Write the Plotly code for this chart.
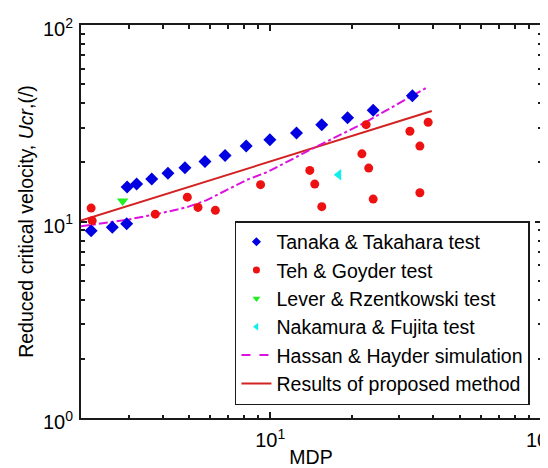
import plotly.graph_objects as go

# ---------------- data ----------------
tanaka_x = [2.18, 2.61, 2.95, 2.96, 3.21, 3.65, 4.19, 4.84, 5.74, 6.81, 8.15, 9.97, 12.5, 15.5, 19.3, 24.0, 33.5]
tanaka_y = [8.98, 9.34, 9.75, 15.0, 15.5, 16.45, 17.6, 18.8, 20.2, 21.7, 24.2, 26.1, 28.2, 31.1, 33.7, 36.8, 43.6]

teh_x = [2.18, 2.20, 3.76, 4.94, 5.41, 6.27, 9.21, 14.0, 14.6, 15.5, 21.8, 22.6, 23.1, 24.0, 32.8, 35.7, 35.7, 38.3]
teh_y = [11.7, 10.1, 10.9, 13.3, 11.8, 11.4, 15.4, 18.2, 15.5, 11.9, 22.1, 31.1, 18.7, 13.0, 28.8, 24.2, 14.0, 32.0]

lever_x = [2.85]
lever_y = [12.7]

nakamura_x = [17.9]
nakamura_y = [17.3]

hassan_x = [2.0, 2.95, 3.8, 4.9, 5.8, 8.2, 9.8, 14.5, 22.2, 38.1]
hassan_y = [9.45, 10.2, 10.9, 11.8, 12.8, 16.3, 17.9, 23.7, 31.7, 48.3]

proposed_x = [2.0, 39.5]
proposed_y = [10.1, 36.5]

x_tickvals = [10, 100]
x_ticktext = ["10<sup>1</sup>", "10<sup>2</sup>"]
y_tickvals = [1, 10, 100]
y_ticktext = ["10<sup>0</sup>", "10<sup>1</sup>", "10<sup>2</sup>"]
minor_vals = [2, 3, 4, 5, 6, 7, 8, 9, 20, 30, 40, 50, 60, 70, 80, 90]

names = ["Tanaka & Takahara test", "Teh & Goyder test", "Lever & Rzentkowski test",
         "Nakamura & Fujita test", "Hassan & Hayder simulation", "Results of proposed method"]

# ---------------- styles ----------------
BLUE = "#0000e0"
RED = "#ee1111"
GREEN = "#22ee22"
CYAN = "#11eeee"
MAGENTA = "#dd11dd"
DARKRED = "#d42222"
AXC = "#1a1a1a"
FONT = "Liberation Sans, Arial, sans-serif"
FS = 19.5
XR = [0.30103, 2]
YR = [0, 2]

fig = go.Figure()

# plotted traces (no legend)
fig.add_trace(go.Scatter(x=proposed_x, y=proposed_y, mode="lines",
                         line=dict(color=DARKRED, width=2), showlegend=False))
fig.add_trace(go.Scatter(x=hassan_x, y=hassan_y, mode="lines",
                         line=dict(color=MAGENTA, width=2, dash="dashdot"), showlegend=False))
fig.add_trace(go.Scatter(x=tanaka_x, y=tanaka_y, mode="markers",
                         marker=dict(symbol="diamond", size=10, color=BLUE), showlegend=False))
fig.add_trace(go.Scatter(x=teh_x, y=teh_y, mode="markers",
                         marker=dict(symbol="circle", size=9, color=RED), showlegend=False))
fig.add_trace(go.Scatter(x=lever_x, y=lever_y, mode="markers",
                         marker=dict(symbol="triangle-down", size=10, color=GREEN), showlegend=False))
fig.add_trace(go.Scatter(x=nakamura_x, y=nakamura_y, mode="markers",
                         marker=dict(symbol="triangle-left", size=10, color=CYAN), showlegend=False))

# legend-only entries (smaller legend symbols)
leg_styles = [
    dict(mode="markers", marker=dict(symbol="diamond", size=7, color=BLUE)),
    dict(mode="markers", marker=dict(symbol="circle", size=7, color=RED)),
    dict(mode="markers", marker=dict(symbol="triangle-down", size=7, color=GREEN)),
    dict(mode="markers", marker=dict(symbol="triangle-left", size=7, color=CYAN)),
    dict(mode="lines", line=dict(color=MAGENTA, width=2, dash="dash")),
    dict(mode="lines", line=dict(color=DARKRED, width=2)),
]
for nm, st in zip(names, leg_styles):
    fig.add_trace(go.Scatter(x=[None], y=[None], name=nm, showlegend=True, **st))

# empty traces on the overlay axes that carry the extra tick sets
for k in (2, 3, 4):
    fig.add_trace(go.Scatter(x=[None], y=[None], xaxis="x%d" % k, yaxis="y%d" % k,
                             showlegend=False, hoverinfo="skip"))

tick_base = dict(
    type="log", automargin=False,
    showline=True, linecolor=AXC, linewidth=2,
    mirror="ticks", ticks="inside", tickwidth=1.5, tickcolor=AXC,
    showgrid=False, zeroline=False,
)
major_over = dict(**tick_base, ticklen=6, showticklabels=False)
minor_over = dict(**tick_base, ticklen=3.5, showticklabels=False, tickvals=minor_vals)

fig.update_layout(
    width=548, height=468,
    margin=dict(l=73, r=15, t=17, b=58),
    paper_bgcolor="white", plot_bgcolor="white",
    font=dict(family=FONT, size=FS, color="#000000"),
    xaxis=dict(**tick_base, ticklen=6, range=XR,
               tickvals=x_tickvals, ticktext=x_ticktext,
               tickfont=dict(family=FONT, size=FS + 0.5, color="#000000"),
               ticklabeloverflow="allow", ticklabelstandoff=3,
               title=dict(text="MDP", font=dict(family=FONT, size=FS), standoff=0)),
    yaxis=dict(**tick_base, ticklen=6, range=YR,
               tickvals=y_tickvals, ticktext=y_ticktext,
               tickfont=dict(family=FONT, size=FS + 0.5, color="#000000"),
               ticklabeloverflow="allow", ticklabelstandoff=2, ticklabelshift=4,
               title=dict(text="Reduced critical velocity, <i>Ucr</i>,(/)",
                          font=dict(family=FONT, size=FS), standoff=4)),
    # minor ticks, main side bottom/left (mirrored to top/right)
    xaxis2=dict(**minor_over, range=XR, overlaying="x", anchor="y2", side="bottom"),
    yaxis2=dict(**minor_over, range=YR, overlaying="y", anchor="x2", side="left"),
    # major ticks, main side top/right (mirrored to bottom/left)
    xaxis3=dict(**major_over, range=XR, tickvals=x_tickvals, overlaying="x", anchor="y3", side="top"),
    yaxis3=dict(**major_over, range=YR, tickvals=y_tickvals, overlaying="y", anchor="x3", side="right"),
    # minor ticks, main side top/right (mirrored to bottom/left)
    xaxis4=dict(**minor_over, range=XR, overlaying="x", anchor="y4", side="top"),
    yaxis4=dict(**minor_over, range=YR, overlaying="y", anchor="x4", side="right"),
    legend=dict(x=0.976, y=0.033, xanchor="right", yanchor="bottom",
                bgcolor="white", bordercolor=AXC, borderwidth=1.5,
                font=dict(family=FONT, size=FS, color="#000000"),
                tracegroupgap=0, itemwidth=30),
)

fig.write_html("out.html")
